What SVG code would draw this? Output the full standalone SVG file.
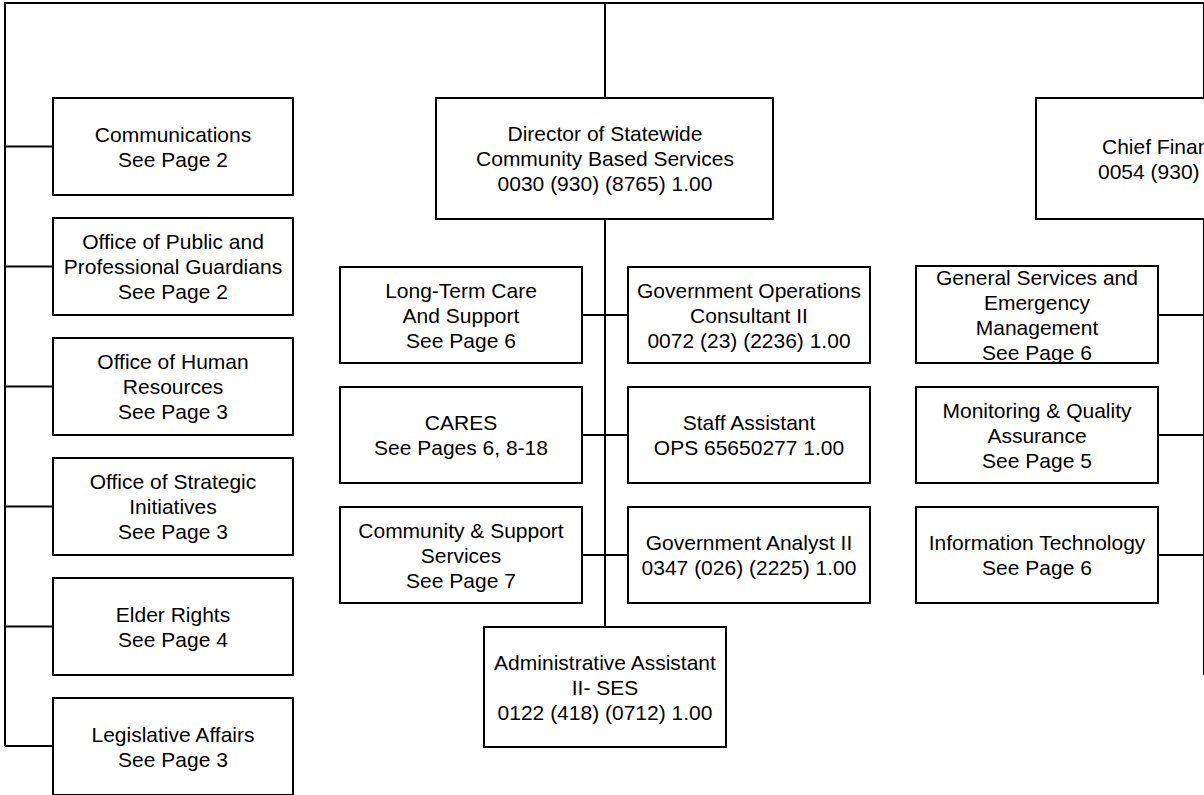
<svg xmlns="http://www.w3.org/2000/svg" width="1204" height="795" viewBox="0 0 1204 795">
<style>
.b{fill:#fff;stroke:#000;stroke-width:2;stroke-linejoin:round}
.c{fill:none;stroke:#000;stroke-width:2}
text{font-family:"Liberation Sans",Arial,sans-serif;font-size:21px;fill:#000;text-anchor:middle}
</style>
<rect width="1204" height="795" fill="#fff"/>
<g id="connectors">
<polyline class="c" points="1204,3 5,3 5,746"/>
<line class="c" x1="5" y1="146.5" x2="53" y2="146.5"/>
<line class="c" x1="5" y1="266.5" x2="53" y2="266.5"/>
<line class="c" x1="5" y1="386.5" x2="53" y2="386.5"/>
<line class="c" x1="5" y1="506.5" x2="53" y2="506.5"/>
<line class="c" x1="5" y1="626.5" x2="53" y2="626.5"/>
<line class="c" x1="5" y1="746" x2="53" y2="746"/>
<line class="c" x1="605" y1="3" x2="605" y2="98"/>
<line class="c" x1="605" y1="219" x2="605" y2="627"/>
<line class="c" x1="582" y1="315" x2="628" y2="315"/>
<line class="c" x1="582" y1="435" x2="628" y2="435"/>
<line class="c" x1="582" y1="555" x2="628" y2="555"/>
<line class="c" x1="1204" y1="3" x2="1204" y2="98"/>
<line class="c" x1="1204" y1="219" x2="1204" y2="675"/>
<line class="c" x1="1158" y1="315" x2="1204" y2="315"/>
<line class="c" x1="1158" y1="435" x2="1204" y2="435"/>
<line class="c" x1="1158" y1="555" x2="1204" y2="555"/>
</g>
<g id="communications"><rect class="b" x="53" y="98" width="240" height="97"/><text x="173" y="141.5">Communications</text><text x="173" y="166.5">See Page 2</text></g>
<g id="public-guardians"><rect class="b" x="53" y="218" width="240" height="97"/><text x="173" y="249">Office of Public and</text><text x="173" y="274">Professional Guardians</text><text x="173" y="299">See Page 2</text></g>
<g id="human-resources"><rect class="b" x="53" y="338" width="240" height="97"/><text x="173" y="369">Office of Human</text><text x="173" y="394">Resources</text><text x="173" y="419">See Page 3</text></g>
<g id="strategic"><rect class="b" x="53" y="458" width="240" height="97"/><text x="173" y="489">Office of Strategic</text><text x="173" y="514">Initiatives</text><text x="173" y="539">See Page 3</text></g>
<g id="elder-rights"><rect class="b" x="53" y="578" width="240" height="97"/><text x="173" y="621.5">Elder Rights</text><text x="173" y="646.5">See Page 4</text></g>
<g id="legislative"><rect class="b" x="53" y="698" width="240" height="97"/><text x="173" y="741.5">Legislative Affairs</text><text x="173" y="766.5">See Page 3</text></g>
<g id="director"><rect class="b" x="436" y="98" width="337" height="121"/><text x="605" y="141">Director of Statewide</text><text x="605" y="166">Community Based Services</text><text x="605" y="191">0030 (930) (8765) 1.00</text></g>
<g id="long-term-care"><rect class="b" x="340" y="267" width="242" height="96"/><text x="461" y="297.5">Long-Term Care</text><text x="461" y="322.5">And Support</text><text x="461" y="347.5">See Page 6</text></g>
<g id="gov-ops"><rect class="b" x="628" y="267" width="242" height="96"/><text x="749" y="297.5">Government Operations</text><text x="749" y="322.5">Consultant II</text><text x="749" y="347.5">0072 (23) (2236) 1.00</text></g>
<g id="cares"><rect class="b" x="340" y="387" width="242" height="96"/><text x="461" y="430">CARES</text><text x="461" y="455">See Pages 6, 8-18</text></g>
<g id="staff-assistant"><rect class="b" x="628" y="387" width="242" height="96"/><text x="749" y="430">Staff Assistant</text><text x="749" y="455">OPS 65650277 1.00</text></g>
<g id="community-support"><rect class="b" x="340" y="507" width="242" height="96"/><text x="461" y="537.5">Community &amp; Support</text><text x="461" y="562.5">Services</text><text x="461" y="587.5">See Page 7</text></g>
<g id="gov-analyst"><rect class="b" x="628" y="507" width="242" height="96"/><text x="749" y="550">Government Analyst II</text><text x="749" y="575">0347 (026) (2225) 1.00</text></g>
<g id="admin-assistant"><rect class="b" x="484" y="627" width="242" height="120"/><text x="605" y="669.5">Administrative Assistant</text><text x="605" y="694.5">II- SES</text><text x="605" y="719.5">0122 (418) (0712) 1.00</text></g>
<g id="cfo"><rect class="b" x="1036" y="98" width="200" height="121"/><text x="1102" y="153.5" style="text-anchor:start">Chief Finan</text><text x="1098" y="178.5" style="text-anchor:start">0054 (930)</text></g>
<g id="general-services"><rect class="b" x="916" y="266" width="242" height="97"/><text x="1037" y="284.5">General Services and</text><text x="1037" y="309.5">Emergency</text><text x="1037" y="334.5">Management</text><text x="1037" y="359.5">See Page 6</text></g>
<g id="monitoring"><rect class="b" x="916" y="387" width="242" height="96"/><text x="1037" y="417.5">Monitoring &amp; Quality</text><text x="1037" y="442.5">Assurance</text><text x="1037" y="467.5">See Page 5</text></g>
<g id="info-tech"><rect class="b" x="916" y="507" width="242" height="96"/><text x="1037" y="550">Information Technology</text><text x="1037" y="575">See Page 6</text></g>
</svg>
